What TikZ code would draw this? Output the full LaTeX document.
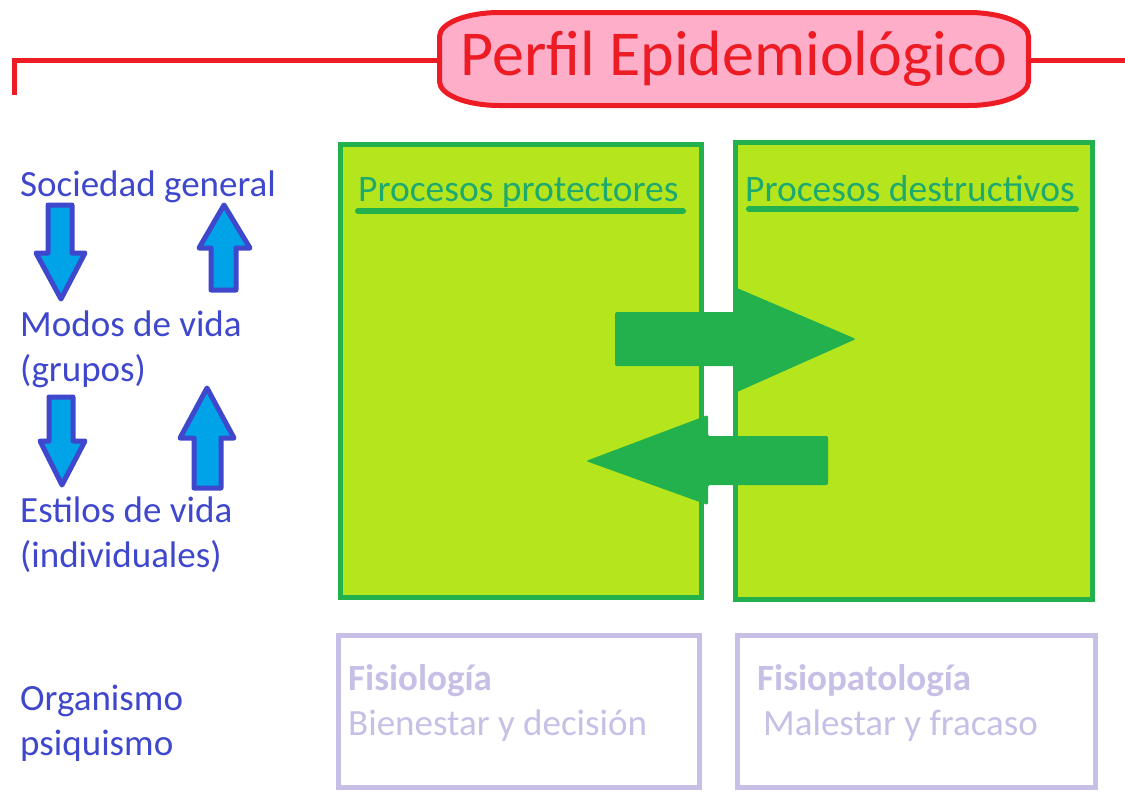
\documentclass[tikz,border=0pt]{standalone}
\usepackage{fontspec}
\setmainfont{Carlito}
\usetikzlibrary{calc}
\definecolor{perfilred}{HTML}{ED1C24}
\definecolor{perfilpink}{HTML}{FFAEC9}
\definecolor{procgreen}{HTML}{22B14C}
\definecolor{proclime}{HTML}{B5E61D}
\definecolor{procteal}{RGB}{30,170,110}
\definecolor{levelblue}{HTML}{3F48CC}
\definecolor{levelcyan}{HTML}{00A2E8}
\definecolor{organlilac}{HTML}{C8BFE7}
\tikzset{
    title-frame/.style = {draw=perfilred, fill=perfilpink, line width=5pt},
    title-text/.style = {text=perfilred, inner sep=0pt, minimum width=589pt, minimum height=93pt, font=\fontsize{64}{70}\selectfont},
    process-box/.style = {draw=procgreen, fill=proclime, line width=5pt, rectangle, inner sep=0pt},
    process-title/.style = {text=procteal, inner sep=0pt, anchor=base west, font=\fontsize{37.5}{40}\selectfont},
    organ-box/.style = {draw=organlilac, fill=white, line width=5pt, rectangle, inner sep=0pt},
    organ-text/.style = {text=organlilac, inner sep=0pt, anchor=base west, font=\fontsize{37}{40}\selectfont},
    level-text/.style = {text=levelblue, inner sep=0pt, anchor=base west, align=left, font=\fontsize{37}{45}\selectfont},
    level-arrow/.style = {draw=levelblue, fill=levelcyan, line width=5pt, line join=round},
    flow-arrow/.style = {fill=procgreen, rounded corners=1.5pt},
}

\begin{document}
\begin{tikzpicture}[x=1pt, y=-1pt]
\useasboundingbox (0,0) rectangle (1125,793);

% encabezado
\draw [title-frame] (499.5,12.5) -- (968.5,12.5) arc[start angle=-90, end angle=0, x radius=60, y radius=24]
    -- (1028.5,81.5) arc[start angle=0, end angle=90, x radius=60, y radius=24]
    -- (499.5,105.5) arc[start angle=90, end angle=180, x radius=60, y radius=24]
    -- (439.5,36.5) arc[start angle=180, end angle=270, x radius=60, y radius=24] -- cycle;
\node [title-text] (perfil) at (734,59) {Perfil Epidemiológico};
\draw [perfilred, line width=5pt] (14,95) -- (14,60) -- ($(perfil.west)+(-2.5,1)$);
\draw [perfilred, line width=5pt] ($(perfil.east)+(2.5,1)$) -- (1125,60);

% procesos
\node [process-box, minimum width=361pt, minimum height=453pt] (protect) at (521,371) {};
\node [process-box, minimum width=357pt, minimum height=457pt] (destruct) at (914,371) {};
\node [process-title] (protect-title) at (358,201) {Procesos protectores};
\node [process-title] (destruct-title) at (745,201) {Procesos destructivos};
\draw [procgreen, line width=6pt, line cap=round] (358,211) -- (683,211);
\draw [procgreen, line width=6pt, line cap=round] (749,209) -- (1076,209);

% flechas entre procesos
\fill [flow-arrow] (615,312) -- (737,312) -- (737,288) -- (856,339) -- (737,392) -- (737,366) -- (615,366) -- cycle;
\fill [flow-arrow] (828,436) -- (708,436) -- (708,415) -- (586,461) -- (708,505) -- (708,485) -- (828,485) -- cycle;

% niveles
\node [level-text] (sociedad) at (20,196) {Sociedad general};
\node [level-text] (modos) at (20,381) {Modos de vida\\(grupos)};
\node [level-text] (estilos) at (20,567) {Estilos de vida\\(individuales)};
\node [level-text] (organismo) at (20,755) {Organismo\\psiquismo};

\draw [level-arrow] (48,205) -- (72,205) -- (72,253) -- (85,253) -- (61,299) -- (36,253) -- (48,253) -- cycle;
\draw [level-arrow] (211,290) -- (211,248) -- (199,248) -- (224,205) -- (250,248) -- (236,248) -- (236,290) -- cycle;
\draw [level-arrow] (49,397) -- (73,397) -- (73,441) -- (85,441) -- (62,485) -- (40,441) -- (49,441) -- cycle;
\draw [level-arrow] (194,488) -- (194,438) -- (180,438) -- (207,388) -- (234,438) -- (221,438) -- (221,488) -- cycle;

% organismo
\node [organ-box, minimum width=361pt, minimum height=152pt] (fisio) at (519,711.5) {};
\node [organ-box, minimum width=358pt, minimum height=152pt] (patho) at (916.5,711.5) {};
\node [organ-text] (fisio-name) at (348,690) {\textbf{Fisiología}};
\node [organ-text] (fisio-desc) at (348,735) {Bienestar y decisión};
\node [organ-text] (patho-name) at (757,690) {\textbf{Fisiopatología}};
\node [organ-text] (patho-desc) at (763,735) {Malestar y fracaso};
\end{tikzpicture}
\end{document}
